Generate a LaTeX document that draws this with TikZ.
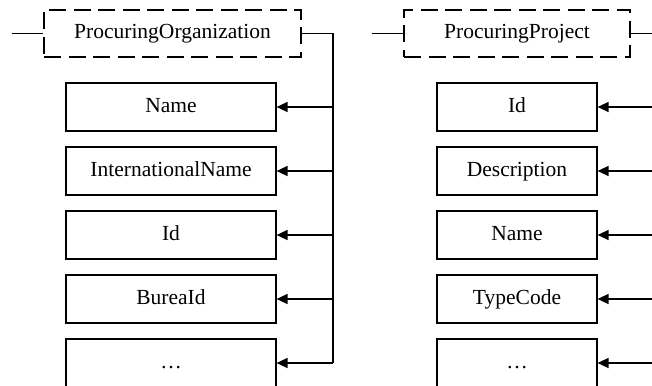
\documentclass[tikz,border=0pt]{standalone}
\usepackage{fontspec}
\setmainfont{Liberation Serif}
\usetikzlibrary{arrows.meta}
\begin{document}
\begin{tikzpicture}[x=1pt,y=-1pt,
  labelfont/.style={font=\fontsize{21.5}{25}\selectfont, text height=14pt, text depth=4pt},
  groupbox/.style={draw, line width=2pt, dash pattern=on 17pt off 7.5pt,
    minimum width=#1, minimum height=47pt, inner sep=0pt, labelfont},
  fieldbox/.style={draw, line width=1.2pt, minimum width=#1,
    minimum height=48pt, inner sep=0pt, labelfont},
  link/.style={line width=1.6pt},
  feed/.style={link, -{Triangle[length=11pt,width=10pt]}}]
\useasboundingbox (0,0) rectangle (652,385);
\clip (0,0) rectangle (652,385);

% ---- ProcuringOrganization group ----
\node[groupbox=257pt] (org) at (172.5,33.5) {ProcuringOrganization};
\node[fieldbox=210pt] (oname) at (171,107) {Name};
\node[fieldbox=210pt] (ointl) at (171,171) {InternationalName};
\node[fieldbox=210pt] (oid)   at (171,235) {Id};
\node[fieldbox=210pt] (obur)  at (171,299) {BureaId};
\node[fieldbox=210pt] (omore) at (171,363) {…};

\coordinate (orgIn)  at (12,33.5);
\coordinate (orgBus) at (333,33.5);
\draw[link] (orgIn) -- (org.west);
\draw[link] (org.east) -- (orgBus) -- (omore.east -| orgBus);
\foreach \f in {oname,ointl,oid,obur,omore}
  \draw[feed] (\f.east -| orgBus) -- (\f.east);

% ---- ProcuringProject group ----
\node[groupbox=226pt] (proj) at (517,33.5) {ProcuringProject};
\node[fieldbox=160pt] (pid)   at (517,107) {Id};
\node[fieldbox=160pt] (pdesc) at (517,171) {Description};
\node[fieldbox=160pt] (pname) at (517,235) {Name};
\node[fieldbox=160pt] (ptype) at (517,299) {TypeCode};
\node[fieldbox=160pt] (pmore) at (517,363) {…};

\coordinate (projIn)  at (372,33.5);
\coordinate (projBus) at (652,33.5);
\draw[link] (projIn) -- (proj.west);
\draw[link] (proj.east) -- (projBus);
\foreach \f in {pid,pdesc,pname,ptype,pmore}
  \draw[feed] (\f.east -| projBus) -- (\f.east);
\end{tikzpicture}
\end{document}
